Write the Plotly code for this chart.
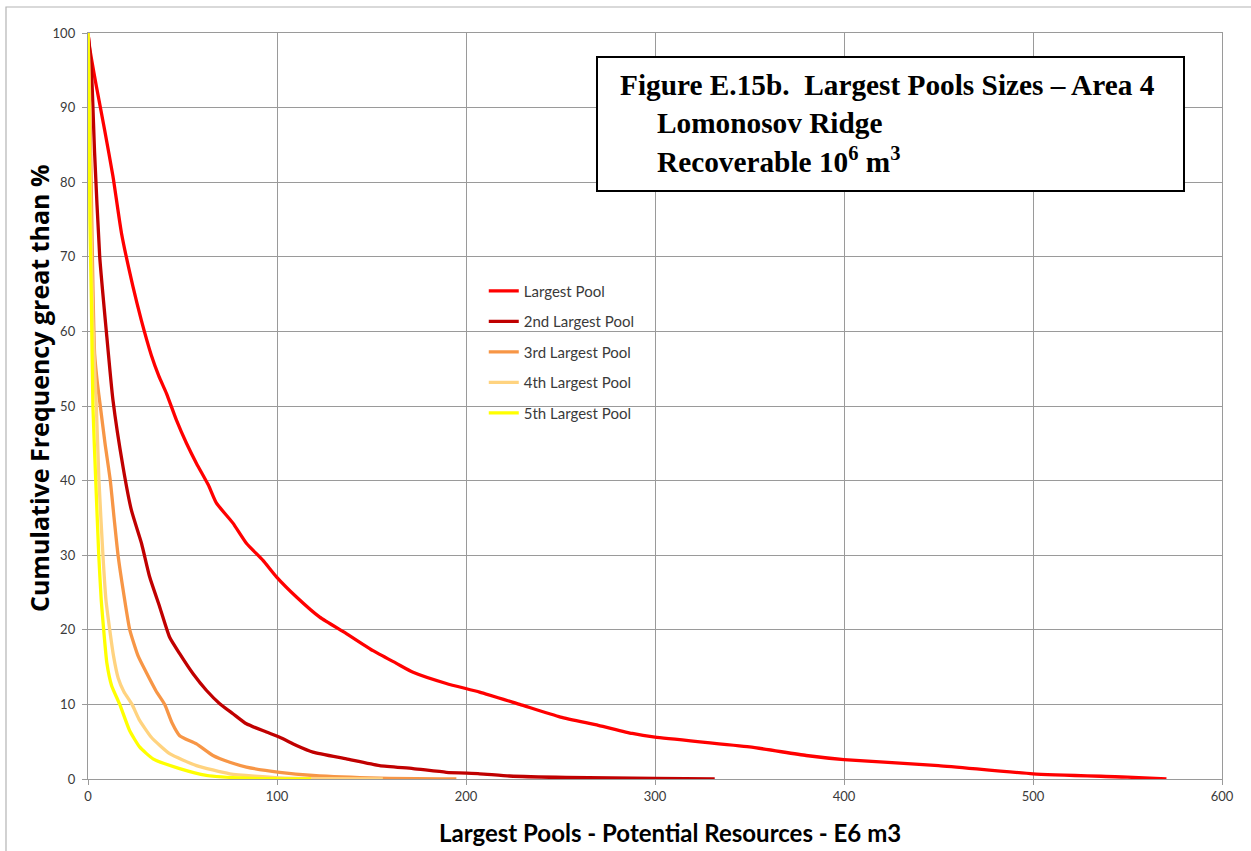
import plotly.graph_objects as go

# Cumulative frequency curves (x: pool size in E6 m3, y: % of trials greater than x)
largest_x = [0, 0.9, 4.4, 8.8, 13.2, 17.7, 23.8, 28.2, 33.5, 37.5, 41.5, 46.8, 52.1, 57.4, 63.7, 67.9,
             76.7, 83.8, 92.6, 99.7, 110.3, 122.6, 136.7, 150.8, 163.2, 172, 189.6, 207.2, 228.4,
             250, 270, 288, 300, 350, 380, 400, 450, 500, 550, 570.6]
largest_y = [100, 98, 92.9, 87, 80.8, 73.2, 66, 61.5, 56.8, 54.0, 51.7, 48.1, 45, 42.3, 39.4, 37.0,
             34.3, 31.6, 29.3, 27.1, 24.4, 21.7, 19.5, 17.2, 15.5, 14.3, 12.8, 11.65, 10,
             8.3, 7.2, 6.1, 5.6, 4.3, 3.15, 2.6, 1.8, 0.7, 0.25, 0]

second_x = [0, 1.8, 3.5, 6.2, 9.7, 13.2, 18.5, 23, 28.3, 32.6, 37.9, 43.2, 48.5, 55.6, 62.6, 69.7,
            76.7, 83.8, 94.4, 101.4, 110.3, 119, 136.7, 154.3, 172, 189.6, 207.2, 223, 253, 300, 331.6]
second_y = [100, 95.1, 83.9, 70, 60, 50.8, 41.9, 36, 31.6, 27.1, 23.1, 19, 16.8, 14.1, 11.9, 10.1,
            8.75, 7.4, 6.3, 5.6, 4.5, 3.6, 2.7, 1.8, 1.4, 0.9, 0.7, 0.4, 0.2, 0.08, 0]

third_x = [0, 1, 1.8, 2.6, 3.5, 5.0, 6.5, 9.0, 11.8, 13.8, 15.9, 18.8, 22.1, 26.5, 31, 36, 40.6,
           44.5, 48.5, 57.4, 66.1, 75, 83.8, 101.4, 119, 154.3, 194.9]
third_y = [100, 90, 78, 66, 57, 53, 50, 45, 40, 35, 30, 25, 20, 16.5, 14.2, 11.8, 10,
           7.5, 5.8, 4.7, 3.15, 2.25, 1.6, 0.9, 0.47, 0.1, 0]

fourth_x = [0, 0.8, 1.5, 2.5, 3.5, 4.4, 5.8, 7.9, 9.5, 11.5, 13.5, 16, 19, 23.3, 27, 33.5, 43.2,
            57.4, 75, 101.4, 125, 156]
fourth_y = [100, 90, 75, 62, 55, 50, 40, 30, 24, 20, 16.5, 13.5, 11.7, 10, 8, 5.6, 3.4,
            1.8, 0.7, 0.15, 0.05, 0]

fifth_x = [0, 0.5, 1.0, 1.8, 2.6, 4.1, 5.7, 7, 8.3, 10, 12.5, 16.8, 22, 27.3, 34.4, 48.5, 62.6,
           83.8, 100, 118]
fifth_y = [100, 90, 75, 64, 50, 40, 30, 24, 20, 15.5, 12.5, 10, 6.5, 4.3, 2.7, 1.4, 0.5,
           0.1, 0.03, 0]

series_names = ["Largest Pool", "2nd Largest Pool", "3rd Largest Pool",
                "4th Largest Pool", "5th Largest Pool"]
series_colors = ["#FF0000", "#C00000", "#F79646", "#FFD37F", "#FFFF00"]
series_data = [(largest_x, largest_y), (second_x, second_y), (third_x, third_y),
               (fourth_x, fourth_y), (fifth_x, fifth_y)]

x_ticks = [0, 100, 200, 300, 400, 500, 600]
y_ticks = [0, 10, 20, 30, 40, 50, 60, 70, 80, 90, 100]

fig = go.Figure()
for i, (name, color, (xs, ys)) in enumerate(zip(series_names, series_colors, series_data)):
    fig.add_trace(go.Scatter(
        x=xs, y=ys, mode="lines", name=name, legendgroup=f"g{i}",
        line=dict(color=color, width=3.3, shape="spline", smoothing=0.5),
    ))

grid = "#9A9A9A"
tick_font = dict(family="Lato, 'Open Sans', sans-serif", size=13, color="#3A3A3A")
x_title_font = dict(family="Lato, sans-serif", size=24, color="#000000")
y_title_font = dict(family="'Open Sans', sans-serif", size=25, color="#000000")

fig.update_layout(
    width=1251, height=851,
    margin=dict(l=88, r=29, t=33, b=72),
    paper_bgcolor="white", plot_bgcolor="white",
    showlegend=True,
    legend=dict(
        x=0.349, y=0.676, xanchor="left", yanchor="top",
        font=dict(family="Lato, 'Open Sans', sans-serif", size=15, color="#3A3A3A"),
        bgcolor="rgba(0,0,0,0)", tracegroupgap=8, itemwidth=30,
    ),
    xaxis=dict(
        range=[0, 600], tickvals=x_ticks, ticktext=[str(v) for v in x_ticks],
        showgrid=True, gridcolor=grid, gridwidth=1.4,
        showline=True, linecolor=grid, linewidth=1.4, mirror=True,
        ticks="outside", ticklen=5, tickcolor=grid, tickwidth=1.4,
        tickfont=tick_font, zeroline=False,
    ),
    yaxis=dict(
        range=[0, 100], tickvals=y_ticks, ticktext=[str(v) for v in y_ticks],
        showgrid=True, gridcolor=grid, gridwidth=1.4,
        showline=True, linecolor=grid, linewidth=1.4, mirror=True,
        ticks="outside", ticklen=5, tickcolor=grid, tickwidth=1.4,
        tickfont=tick_font, zeroline=False, ticklabelstandoff=4,
    ),
)


def paper_x(px):
    return (px - 88) / 1134


def paper_y(py):
    return (779 - py) / 746


# Axis titles
fig.add_annotation(text="<b>Largest Pools - Potential Resources - E6 m3</b>",
                   xref="paper", yref="paper", x=paper_x(670), y=paper_y(832),
                   xanchor="center", yanchor="middle", showarrow=False, font=x_title_font)
fig.add_annotation(text="<b>Cumulative Frequency great than %</b>",
                   xref="paper", yref="paper", x=paper_x(39), y=paper_y(389),
                   xanchor="center", yanchor="middle", showarrow=False, textangle=-90,
                   font=y_title_font)

# Outer chart frame
fig.add_shape(type="rect", xref="paper", yref="paper",
              x0=paper_x(6), x1=1.06, y0=-0.12, y1=paper_y(7),
              line=dict(color="#B4B4B4", width=1.2), fillcolor="rgba(0,0,0,0)",
              layer="below")

# Caption box
fig.add_shape(type="rect", xref="paper", yref="paper",
              x0=paper_x(597), x1=paper_x(1184), y0=paper_y(191), y1=paper_y(57),
              line=dict(color="#000000", width=2), fillcolor="white", layer="above")

caption_font = dict(family="'Liberation Serif', 'Times New Roman', serif", size=29.3, color="#000000")
caption_lines = [
    ("<b>Figure E.15b.  Largest Pools Sizes – Area 4</b>", 618, 85),
    ("<b>Lomonosov Ridge</b>", 655, 123),
    ("<b>Recoverable 10<sup>6</sup> m<sup>3</sup></b>", 655, 160),
]
for text, px, py in caption_lines:
    fig.add_annotation(
        text=text, xref="paper", yref="paper",
        x=paper_x(px), y=paper_y(py),
        xanchor="left", yanchor="middle", showarrow=False, font=caption_font,
    )

fig.write_html("out.html")
